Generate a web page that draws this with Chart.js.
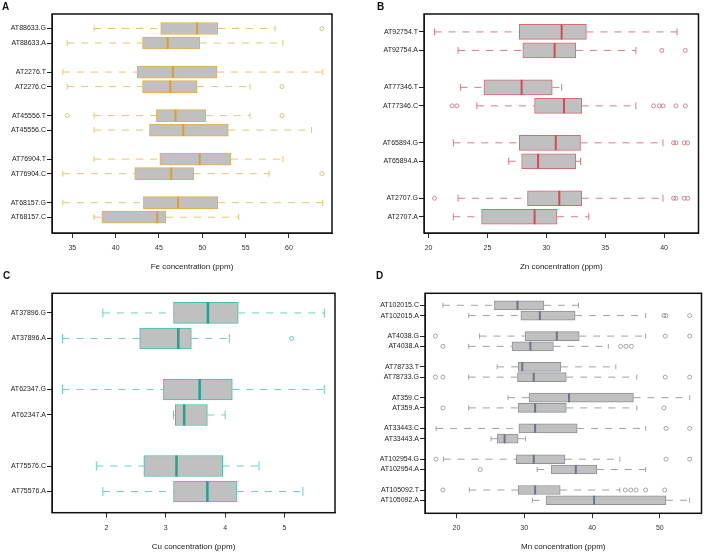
<!DOCTYPE html>
<html>
<head>
<meta charset="utf-8">
<script src="https://cdn.jsdelivr.net/npm/chart.js@4.4.1/dist/chart.umd.min.js"></script>
<style>
  body { margin: 0; background: #fff; font-family: "Liberation Sans", Arial, sans-serif; }
  #wrap { position: relative; width: 708px; height: 553px; overflow: hidden; }
  canvas { position: absolute; }
  .tag { position: absolute; font-weight: bold; font-size: 10px; line-height: 10px; color: #111; z-index: 2; }
</style>
</head>
<body>
<div id="wrap">
  <canvas id="feChart" width="354" height="276" style="left:0;top:0"></canvas>
  <canvas id="znChart" width="354" height="276" style="left:354px;top:0"></canvas>
  <canvas id="cuChart" width="354" height="277" style="left:0;top:276px"></canvas>
  <canvas id="mnChart" width="354" height="277" style="left:354px;top:276px"></canvas>
  <div class="tag" style="left:2px;top:2px">A</div>
  <div class="tag" style="left:377px;top:2px">B</div>
  <div class="tag" style="left:3px;top:271px">C</div>
  <div class="tag" style="left:376px;top:271px">D</div>
</div>
<script>
// A - Fe
const feLabels = ['AT88633.G', 'AT88633.A', 'AT2276.T', 'AT2276.C', 'AT45556.T', 'AT45556.C', 'AT76904.T', 'AT76904.C', 'AT68157.G', 'AT68157.C'];
const feLow  = [37.5, 34.4, 33.9, 34.4, 37.5, 37.5, 37.5, 33.9, 33.9, 37.5];
const feQ1   = [45.2, 43.1, 42.5, 43.1, 44.7, 43.9, 45.1, 42.2, 43.2, 38.4];
const feMed  = [49.4, 46.0, 46.6, 46.3, 46.9, 47.8, 49.7, 46.4, 47.2, 44.8];
const feQ3   = [51.8, 49.7, 51.7, 49.4, 50.4, 53.0, 53.3, 49.0, 51.8, 45.8];
const feHigh = [58.4, 59.3, 63.9, 55.5, 55.5, 62.6, 59.3, 57.7, 63.9, 54.2];
const feOut  = [[63.8], [], [], [59.2], [34.4, 59.2], [], [], [63.8], [], []];
const feTicks = [35, 40, 45, 50, 55, 60];

// B - Zn
const znLabels = ['AT92754.T', 'AT92754.A', 'AT77346.T', 'AT77346.C', 'AT65894.G', 'AT65894.A', 'AT2707.G', 'AT2707.A'];
const znLow  = [20.5, 22.5, 22.7, 24.1, 22.1, 26.8, 22.5, 22.1];
const znQ1   = [27.7, 28.0, 24.7, 29.0, 27.7, 27.9, 28.4, 24.5];
const znMed  = [31.3, 30.7, 27.9, 31.5, 30.8, 29.3, 31.1, 29.0];
const znQ3   = [33.4, 32.5, 30.5, 33.0, 32.9, 32.5, 33.0, 30.9];
const znHigh = [41.1, 37.6, 31.3, 37.6, 39.9, 32.9, 39.9, 33.6];
const znOut  = [[], [39.8, 41.8], [], [22.0, 22.4, 39.1, 39.6, 39.9, 41.0, 41.8], [40.8, 41.0, 41.7, 42.0], [], [20.5, 40.8, 41.0, 41.7, 42.0], []];
const znTicks = [20, 25, 30, 35, 40];

// C - Cu
const cuLabels = ['AT37896.G', 'AT37896.A', 'AT62347.G', 'AT62347.A', 'AT75576.C', 'AT75576.A'];
const cuLow  = [1.94, 1.26, 1.26, 3.13, 1.83, 1.94];
const cuQ1   = [3.13, 2.56, 2.96, 3.16, 2.63, 3.13];
const cuMed  = [3.71, 3.21, 3.57, 3.31, 3.18, 3.70];
const cuQ3   = [4.22, 3.43, 4.12, 3.70, 3.96, 4.20];
const cuHigh = [5.67, 4.07, 5.67, 4.00, 4.57, 5.31];
const cuOut  = [[], [5.12], [], [], [], []];
const cuTicks = [2, 3, 4, 5];

// D - Mn
const mnLabels = ['AT102015.C', 'AT102015.A', 'AT4038.G', 'AT4038.A', 'AT78733.T', 'AT78733.G', 'AT359.C', 'AT359.A', 'AT33443.C', 'AT33443.A', 'AT102954.G', 'AT102954.A', 'AT105092.T', 'AT105092.A'];
const mnLow  = [18.0, 21.8, 23.4, 21.8, 26.0, 21.8, 27.6, 21.8, 17.0, 25.1, 18.1, 31.9, 21.9, 31.2];
const mnQ1   = [25.6, 29.5, 30.1, 28.2, 29.1, 29.0, 30.7, 29.1, 29.2, 26.0, 28.8, 34.0, 29.1, 33.2];
const mnMed  = [29.0, 32.3, 34.8, 30.9, 29.7, 31.4, 36.6, 31.6, 31.6, 27.1, 31.4, 37.6, 31.6, 40.3];
const mnQ3   = [32.9, 37.5, 38.1, 34.3, 35.4, 36.2, 46.1, 36.2, 37.8, 29.1, 36.0, 40.7, 35.3, 50.9];
const mnHigh = [38.0, 47.9, 47.9, 42.4, 43.5, 46.6, 54.4, 46.6, 47.9, 30.2, 44.1, 47.9, 44.1, 54.4];
const mnOut  = [[], [50.6, 50.9, 54.4], [16.9, 50.8, 54.4], [18.0, 44.2, 45.0, 45.8], [], [16.9, 18.0, 50.8, 54.4], [], [18.0, 50.6], [50.9, 54.4], [], [17.0, 50.9, 54.4], [23.5], [18.0, 44.9, 45.7, 46.5, 47.9, 50.7], []];
const mnTicks = [20, 30, 40, 50];

Chart.defaults.font.family = '"Liberation Sans", Arial, sans-serif';
Chart.defaults.color = '#222';

// box outline around the plot area
const frame = {
    id: 'frame',
    afterDraw(chart) {
        const { ctx, chartArea: a } = chart;
        ctx.save();
        ctx.strokeStyle = '#111';
        ctx.lineWidth = 1.5;
        ctx.strokeRect(a.left, a.top, a.right - a.left, a.bottom - a.top);
        ctx.restore();
    }
};

function boxChart(id, p) {
    // rows come in pairs with one empty slot between pairs
    const pos = p.labels.map((_, i) => i + 1 + Math.floor(i / 2));
    const whisk = [], caps = [], meds = [], outs = [], boxes = [];
    p.labels.forEach((_, i) => {
        const y = pos[i];
        whisk.push({ x: p.low[i], y }, { x: p.q1[i], y }, { x: null, y },
                   { x: p.q3[i], y }, { x: p.high[i], y }, { x: null, y });
        caps.push({ x: p.low[i], y }, { x: p.high[i], y });
        meds.push({ x: p.med[i], y });
        boxes.push({ x: [p.q1[i], p.q3[i]], y });
        p.out[i].forEach(v => outs.push({ x: v, y }));
    });

    new Chart(document.getElementById(id), {
        type: 'bar',
        data: {
            datasets: [
                { type: 'scatter', data: meds, pointStyle: 'line', pointRotation: 90, pointRadius: p.box / 2,
                  pointBorderColor: p.medColor, pointBorderWidth: p.medWidth, order: 0 },
                { type: 'bar', data: boxes, backgroundColor: '#c0c0c0', borderColor: p.color, borderWidth: 1,
                  borderSkipped: false, barThickness: p.box, order: 1 },
                { type: 'scatter', data: outs, pointStyle: 'circle', pointRadius: 2, pointBorderColor: p.color,
                  pointBorderWidth: 0.8, pointBackgroundColor: 'rgba(0,0,0,0)', order: 2 },
                { type: 'scatter', data: caps, pointStyle: 'line', pointRotation: 90, pointRadius: p.cap,
                  pointBorderColor: p.whisker, pointBorderWidth: 1, order: 3 },
                { type: 'line', data: whisk, borderColor: p.whisker, borderWidth: 1, borderDash: [7, 7],
                  pointRadius: 0, spanGaps: false, fill: false, order: 4 }
            ]
        },
        options: {
            indexAxis: 'y',
            responsive: false,
            animation: false,
            events: [],
            layout: { padding: { left: 0, top: p.top, right: p.right, bottom: 0 } },
            plugins: { legend: { display: false }, tooltip: { enabled: false } },
            scales: {
                x: {
                    type: 'linear', min: p.xMin, max: p.xMax, bounds: 'data',
                    afterBuildTicks: s => { s.ticks = p.ticks.map(v => ({ value: v })); },
                    afterFit: s => { s.height = p.xAxisH; },
                    ticks: { font: { size: 7 }, color: '#333', padding: 6, maxRotation: 0 },
                    grid: { drawOnChartArea: false, tickLength: 5, color: '#333' },
                    border: { color: '#222' },
                    title: { display: true, text: p.title, font: { size: 8 }, color: '#222',
                             padding: { top: 0, bottom: p.titlePad } }
                },
                y: {
                    type: 'linear', reverse: true, min: p.yMin, max: p.yMax, bounds: 'data',
                    offset: false,
                    afterBuildTicks: s => { s.ticks = pos.map(v => ({ value: v })); },
                    afterFit: s => { s.width = p.yAxisW; },
                    ticks: { callback: (v, i) => p.labels[i], font: { size: 7 }, color: '#222',
                             padding: 1, autoSkip: false },
                    grid: { offset: false, drawOnChartArea: false, tickLength: 5, color: '#222' },
                    border: { color: '#222' }
                }
            }
        },
        plugins: [frame]
    });
}

boxChart('feChart', {
    labels: feLabels, low: feLow, q1: feQ1, med: feMed, q3: feQ3, high: feHigh, out: feOut, ticks: feTicks,
    title: 'Fe concentration (ppm)', xMin: 32.65, xMax: 64.97, yMin: 0, yMax: 15.09,
    top: 14, right: 22, yAxisW: 52, xAxisH: 43, titlePad: 4.5,
    box: 12, cap: 3, medWidth: 2,
    color: '#e5b047', whisker: '#ebc46e', medColor: '#dc9f2c'
});

boxChart('znChart', {
    labels: znLabels, low: znLow, q1: znQ1, med: znMed, q3: znQ3, high: znHigh, out: znOut, ticks: znTicks,
    title: 'Zn concentration (ppm)', xMin: 19.61, xMax: 42.92, yMin: 0.03, yMax: 11.88,
    top: 14, right: 2, yAxisW: 70, xAxisH: 43, titlePad: 4.5,
    box: 15, cap: 3.5, medWidth: 2,
    color: '#d96a72', whisker: '#dc7b82', medColor: '#d24b56'
});

boxChart('cuChart', {
    labels: cuLabels, low: cuLow, q1: cuQ1, med: cuMed, q3: cuQ3, high: cuHigh, out: cuOut, ticks: cuTicks,
    title: 'Cu concentration (ppm)', xMin: 1.083, xMax: 5.85, yMin: 0.23, yMax: 8.83,
    top: 17.3, right: 19, yAxisW: 52, xAxisH: 40.3, titlePad: 1.5,
    box: 21, cap: 4.5, medWidth: 2.5,
    color: '#45bdb0', whisker: '#6dcfc4', medColor: '#1fa393'
});

boxChart('mnChart', {
    labels: mnLabels, low: mnLow, q1: mnQ1, med: mnMed, q3: mnQ3, high: mnHigh, out: mnOut, ticks: mnTicks,
    title: 'Mn concentration (ppm)', xMin: 15.36, xMax: 56.14, yMin: -0.17, yMax: 21.27,
    top: 17.3, right: 2, yAxisW: 71, xAxisH: 39.7, titlePad: 1.5,
    box: 9, cap: 2.5, medWidth: 2,
    color: '#8d9199', whisker: '#9ea2a8', medColor: '#6e7481'
});
</script>
</body>
</html>
